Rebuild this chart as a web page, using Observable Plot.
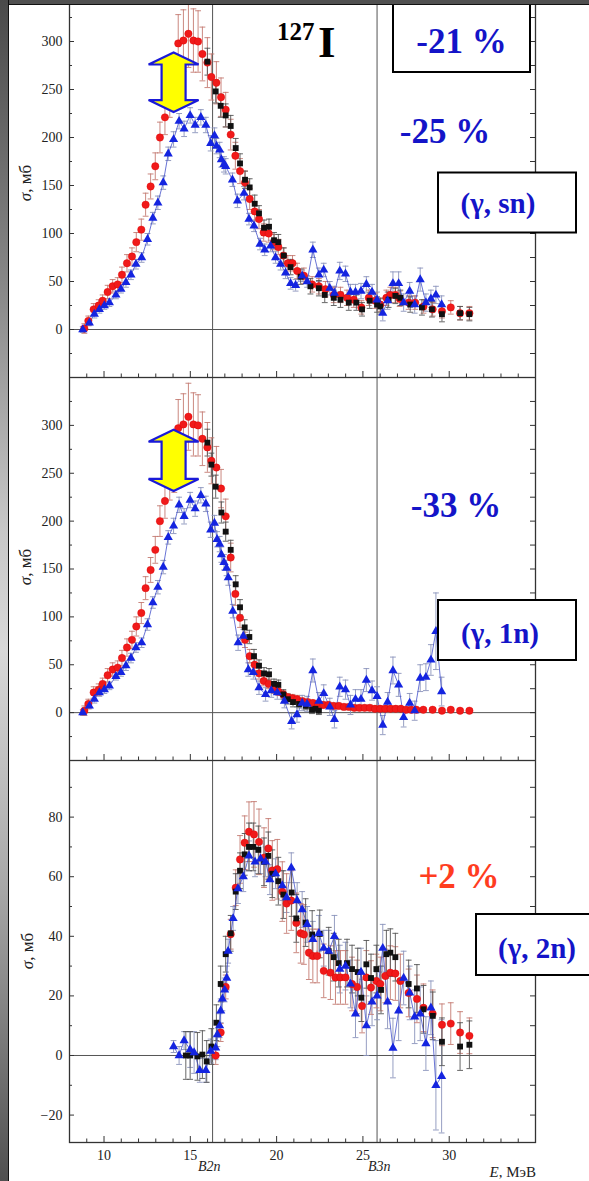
<!DOCTYPE html>
<html><head><meta charset="utf-8">
<script src="https://cdn.jsdelivr.net/npm/d3@7"></script>
<script src="https://cdn.jsdelivr.net/npm/@observablehq/plot@0.6"></script>
<style>
html,body{margin:0;padding:0;background:#fff;width:589px;height:1181px;overflow:hidden;position:relative;font-family:'Liberation Serif',serif}
.panel{position:absolute;left:0}
.panel svg, .panel svg text{font-family:'Liberation Serif',serif !important}
#ov text{font-family:'Liberation Serif',serif}
#topbar{position:absolute;left:0;top:0;width:589px;height:4px;background:#505050;border-bottom:1.5px solid #111;z-index:5}
#leftbar{position:absolute;left:0;top:0;width:8px;height:1181px;background:linear-gradient(to bottom,#4a4a4a 0%,#8a8a8a 25%,#c8c8c8 45%,#d8d8d8 55%,#a8a8a8 75%,#505050 100%);border-right:1.5px solid #111;z-index:5}
#ov{position:absolute;left:0;top:0;z-index:4}
</style></head>
<body>
<div id="p1" class="panel"></div>
<div id="p2" class="panel"></div>
<div id="p3" class="panel"></div>
<svg id="ov" width="589" height="1181">
  <text x="277" y="39.5" font-size="25" font-weight="bold" fill="#000">127</text>
  <text x="318" y="57" font-size="45" font-weight="bold" fill="#000">I</text>
  <rect x="393" y="4" width="137" height="68" fill="#fff" stroke="#000" stroke-width="2"/>
  <text x="461.5" y="52.5" font-size="35" font-weight="bold" text-anchor="middle" fill="#1414c8">-21 %</text>
  <text x="445" y="143" font-size="35" font-weight="bold" text-anchor="middle" fill="#1414c8">-25 %</text>
  <rect x="438" y="172.5" width="138" height="60" fill="#fff" stroke="#000" stroke-width="2"/>
  <text x="498" y="213" font-size="29" font-weight="bold" text-anchor="middle" fill="#1414c8">(γ, sn)</text>
  <text x="456" y="516.5" font-size="35" font-weight="bold" text-anchor="middle" fill="#1414c8">-33 %</text>
  <rect x="438" y="600" width="138" height="60" fill="#fff" stroke="#000" stroke-width="2"/>
  <text x="500" y="643" font-size="29" font-weight="bold" text-anchor="middle" fill="#1414c8">(γ, 1n)</text>
  <text x="459" y="888" font-size="35" font-weight="bold" text-anchor="middle" fill="#ff3d1f">+2 %</text>
  <rect x="476" y="914" width="125" height="61" fill="#fff" stroke="#000" stroke-width="2"/>
  <text x="537" y="958" font-size="29" font-weight="bold" text-anchor="middle" fill="#1414c8">(γ, 2n)</text>
  <g font-size="17" fill="#222">
    <text transform="translate(31,183) rotate(-90)" text-anchor="middle"><tspan font-style="italic">σ</tspan>, мб</text>
    <text transform="translate(31,567) rotate(-90)" text-anchor="middle"><tspan font-style="italic">σ</tspan>, мб</text>
    <text transform="translate(33,951) rotate(-90)" text-anchor="middle"><tspan font-style="italic">σ</tspan>, мб</text>
  </g>
  <g font-size="14" font-style="italic" fill="#222">
    <text x="198" y="1170.5">B2n</text>
    <text x="368" y="1170.5">B3n</text>
  </g>
  <text x="536" y="1177" font-size="15" fill="#222" text-anchor="end"><tspan font-style="italic">E</tspan>, МэВ</text>
</svg>
<div id="topbar"></div>
<div id="leftbar"></div>
<script>
// Threshold energies (MeV)
const B2n = 16.29, B3n = 25.82;
const xMajor = [10, 15, 20, 25, 30];
const xMinor = [9, 11, 12, 13, 14, 16, 17, 18, 19, 21, 22, 23, 24, 26, 27, 28, 29, 31, 32, 33, 34];
const yMajorA = [0, 50, 100, 150, 200, 250, 300];
const yMinorA = [-25, 25, 75, 125, 175, 225, 275, 325];
const yMajorB = [-20, 0, 20, 40, 60, 80];
const yMinorB = [-10, 10, 30, 50, 70, 90];

// [E, sigma, error]
const p1Blue = [[8.77,0,3],[9.15,7,3],[9.44,16,4],[9.73,21,4],[10.02,25,4],[10.31,28,4],[10.69,36,4],[10.98,42,4],[11.27,49,5],[11.56,57,5],[11.85,68,5],[12.18,75,5],[12.52,94,6],[12.83,116,6],[13.12,132,7],[13.43,153,7],[13.72,183,7],[14.03,198,8],[14.35,217,8],[14.64,209,8],[14.99,223,8],[15.28,213,8],[15.61,221,8],[15.90,213,8],[16.18,194,8],[16.40,202,8],[16.52,191,8],[16.70,187,8],[16.80,177,8],[16.95,172,8],[17.05,170,8],[17.44,156,7],[17.73,134,7],[18.11,142,7],[18.40,115,6],[18.69,108,6],[19.04,89,6],[19.31,83,6],[19.65,87,6],[19.94,75,6],[20.23,68,6],[20.52,59,6],[20.81,48,6],[21.10,46,6],[21.48,56,6],[21.77,50,6],[22.10,83,8],[22.45,57,7],[22.73,62,7],[23.08,43,7],[23.35,38,7],[23.66,61,9],[23.99,58,8],[24.28,39,8],[24.57,39,8],[24.89,40,8],[25.20,47,8],[25.53,39,8],[25.82,31,8],[26.15,17,8],[26.43,30,9],[26.74,48,12],[27.07,48,12],[27.36,28,9],[27.71,40,9],[28.00,26,9],[28.32,52,12],[28.65,28,9],[28.94,32,9],[29.23,36,9],[29.56,26,9]];
const p1Red = [[8.86,1,5],[9.09,9,5],[9.40,21,6],[9.69,25,6],[9.92,30,6],[10.21,39,7],[10.50,45,7],[10.79,47,7],[11.04,57,8],[11.33,69,9],[11.62,76,9],[11.87,91,10],[12.16,104,11],[12.41,130,12],[12.70,149,13],[12.97,170,14],[13.24,200,16],[13.53,221,18],[13.81,241,20],[14.07,251,22],[14.30,298,30],[14.60,301,32],[14.89,308,35],[15.18,301,33],[15.45,300,32],[15.70,287,28],[15.99,278,26],[16.22,263,24],[16.51,257,22],[16.78,242,20],[17.05,229,18],[17.34,203,16],[17.61,181,14],[17.88,165,13],[18.17,153,12],[18.44,136,11],[18.73,123,10],[18.98,115,10],[19.25,101,9],[19.54,100,9],[19.85,91,8],[20.10,86,8],[20.39,77,8],[20.65,69,8],[20.92,69,8],[21.19,61,8],[21.58,56,8],[22.06,47,8],[22.45,45,8],[22.83,42,8],[23.31,36,8],[23.70,36,8],[24.08,33,8],[24.47,31,8],[24.91,23,7],[25.34,33,8],[25.72,30,8],[26.01,26,7],[26.36,33,8],[26.59,36,8],[26.88,36,8],[27.13,32,8],[27.65,28,7],[28.03,28,7],[28.51,24,7],[29.04,21,7],[29.58,19,7],[30.09,23,7],[30.63,17,7],[31.17,17,7]];
const p1Black = [[15.99,279,14],[16.47,248,12],[16.76,233,12],[17.05,223,12],[17.34,212,11],[17.63,189,10],[17.88,173,10],[18.17,156,9],[18.44,148,9],[18.73,131,9],[18.98,121,8],[19.27,106,8],[19.56,107,8],[19.85,93,8],[20.10,91,8],[20.42,77,8],[20.81,65,8],[21.39,55,8],[21.96,45,8],[22.45,43,8],[22.79,36,8],[23.31,33,8],[23.70,31,8],[24.18,28,8],[24.62,28,8],[24.95,21,7],[25.39,30,8],[25.82,26,8],[26.01,24,8],[26.49,31,8],[26.88,35,8],[27.17,33,8],[27.74,26,8],[28.42,23,8],[29.00,21,8],[29.58,16,8],[30.63,17,7],[31.17,16,7]];

const p2Blue = [[8.77,0,3],[9.15,7,3],[9.44,14,4],[9.73,21,4],[10.02,24,4],[10.31,28,4],[10.69,38,4],[10.98,42,4],[11.27,49,5],[11.56,57,5],[11.85,68,5],[12.18,73,5],[12.52,92,6],[12.83,115,6],[13.12,131,7],[13.43,152,7],[13.72,183,7],[14.03,195,8],[14.35,217,8],[14.64,205,8],[14.99,222,8],[15.28,213,8],[15.61,227,8],[15.90,218,8],[16.18,191,8],[16.40,198,8],[16.55,181,8],[16.70,176,8],[16.80,165,8],[16.95,157,8],[17.10,151,8],[17.20,141,8],[17.46,106,7],[17.77,73,8],[18.07,80,7],[18.36,45,7],[18.65,42,7],[18.98,26,7],[19.36,19,7],[19.69,23,7],[20.04,21,7],[20.45,12,7],[20.87,-9,8],[21.18,-2,8],[21.48,10,8],[21.77,9,8],[22.10,44,12],[22.45,12,9],[22.73,20,9],[23.08,6,9],[23.35,-7,9],[23.66,27,10],[23.99,24,10],[24.28,8,10],[24.57,14,10],[24.89,14,10],[25.20,34,12],[25.53,23,10],[25.82,17,10],[26.15,-13,10],[26.43,11,10],[26.74,44,14],[27.07,29,12],[27.36,-5,10],[27.71,10,10],[28.00,2,10],[28.32,36,14],[28.65,37,14],[28.94,55,16],[29.23,85,40],[29.56,22,15]];
const p2Red = [[8.86,2,5],[9.09,9,5],[9.40,21,6],[9.69,24,6],[9.92,30,6],[10.21,39,7],[10.50,45,7],[10.79,47,7],[11.04,57,8],[11.33,68,9],[11.62,76,9],[11.87,90,10],[12.16,104,11],[12.41,130,12],[12.70,149,13],[12.97,170,14],[13.24,200,16],[13.53,221,18],[13.81,242,20],[14.07,252,22],[14.30,297,30],[14.60,301,32],[14.89,309,35],[15.18,301,33],[15.45,300,32],[15.70,286,28],[15.99,277,26],[16.22,263,24],[16.51,256,22],[16.78,234,20],[17.05,205,18],[17.34,162,15],[17.61,124,12],[17.88,99,10],[18.17,76,8],[18.44,59,7],[18.73,50,6],[18.98,41,6],[19.25,33,5],[19.54,30,5],[19.85,25,5],[20.10,22,4],[20.39,19,4],[20.65,16,4],[20.92,15,4],[21.19,14,4],[21.50,12,3],[21.80,11,3],[22.10,10,3],[22.40,9,3],[22.70,8,3],[23.00,8,3],[23.30,7,3],[23.60,7,3],[23.90,6,3],[24.20,6,3],[24.50,5,3],[24.80,5,3],[25.10,5,3],[25.40,5,3],[25.70,4,3],[26.00,4,3],[26.30,4,3],[26.60,4,3],[26.90,4,3],[27.20,4,2],[27.50,3,2],[27.80,3,2],[28.10,3,2],[28.50,3,2],[29.04,3,2],[29.58,2,2],[30.09,3,2],[30.63,2,2],[31.17,2,2]];
const p2Black = [[15.99,282,14],[16.22,259,12],[16.47,236,12],[16.80,209,11],[17.05,189,10],[17.34,170,10],[17.63,134,9],[17.88,110,8],[18.15,89,8],[18.42,79,7],[18.69,59,7],[18.98,49,6],[19.27,41,6],[19.56,40,6],[19.85,30,5],[20.10,29,5],[20.39,19,5],[20.65,14,5],[20.95,11,5],[21.30,9,4],[21.70,7,4],[22.05,3,4],[22.25,4,4],[22.45,2,4]];

const p3Blue = [[14.03,3,2],[14.35,0,3],[14.64,5,3],[14.99,2,6],[15.22,1,7],[15.55,-5,4],[15.90,-5,4],[16.18,1.5,4],[16.47,2.6,4],[16.57,7,4],[16.70,10,4],[16.76,15,4],[16.86,19,4],[16.99,22,4],[17.11,26,4],[17.19,35,4],[17.48,46,4],[17.76,56,5],[18.07,60,5],[18.40,67,5],[18.75,65,5],[19.07,66,5],[19.36,65,5],[19.61,59,5],[19.94,61,5],[20.33,57,5],[20.58,53,5],[20.85,63,5],[21.19,52,6],[21.48,49,6],[21.77,44,6],[22.10,39,6],[22.45,41,6],[22.73,36,6],[23.02,35,7],[23.35,40,7],[23.66,29,8],[23.99,30,8],[24.28,24,8],[24.57,14,8],[24.89,28,8],[25.20,10,10],[25.53,18,8],[25.82,20,8],[26.15,36,8],[26.43,18,9],[26.74,2.5,10],[27.07,15,10],[27.36,26,9],[27.71,21,9],[28.00,13,9],[28.32,14,9],[28.65,4,9],[28.94,16,9],[29.23,-10,15],[29.56,-7,19]];
const p3Red = [[16.47,0,3],[16.76,7.7,3],[17.05,23,4],[17.34,40.7,5],[17.63,56.3,6],[17.88,65.8,8],[18.15,71.4,9],[18.40,75.1,10],[18.69,74.2,11],[18.98,71.7,11],[19.27,66.4,10],[19.52,69.5,10],[19.75,62.1,10],[20.04,62.5,10],[20.33,55,10],[20.58,51,10],[20.85,52,10],[21.14,44.5,10],[21.39,41,10],[21.58,40.6,10],[21.87,34.5,9],[22.10,33.4,9],[22.35,33.4,9],[22.73,28.4,9],[23.12,27.8,9],[23.41,26.2,9],[23.70,26.2,9],[23.99,26.2,9],[24.37,24,9],[24.66,23,9],[24.95,16.6,9],[25.20,26.2,9],[25.47,22.8,9],[25.78,25,9],[26.01,24,9],[26.30,26.7,9],[26.59,27.8,9],[26.88,27.5,9],[27.17,25,9],[27.65,21,8],[28.13,19,8],[28.51,16,8],[29.04,14,8],[29.58,10.3,7],[30.09,10.7,7],[30.63,7.7,7],[31.17,6.6,6]];
const p3Black = [[14.74,0,8],[14.99,0,8],[15.41,-0.3,8],[15.70,0.3,8],[15.95,-2,7],[16.22,3,6],[16.51,11,6],[16.76,24,6],[17.05,34,6],[17.34,41,6],[17.63,55,6],[17.88,62,6],[18.15,67.5,7],[18.40,70,8],[18.65,70,8],[18.94,69,8],[19.27,65,8],[19.52,67,8],[19.75,61,8],[20.10,58.5,8],[20.39,54,8],[20.87,54.7,8],[21.14,46,8],[21.68,44.6,8],[22.06,40.6,8],[22.50,40.8,8],[23.02,35,8],[23.31,33,8],[23.60,31,8],[24.08,31,8],[24.37,29,8],[24.70,28,8],[24.91,19.4,8],[25.20,30.6,8],[25.47,26,8],[25.78,29,8],[26.05,22,8],[26.36,34,8],[26.59,34.5,8],[26.88,33,8],[27.65,24,8],[28.13,22.5,8],[28.51,15.5,8],[29.05,13.3,8],[29.58,4.6,8],[30.63,3,8],[31.17,3.6,8]];

// Yellow double-arrow annotations: energy, upper and lower sigma
const arrow1 = {E: 14.06, top: 288, bottom: 226};
const arrow2 = {E: 14.06, top: 295, bottom: 231};

const W = 589, ML = 69, MR = 54;
const FW = W - ML - MR;
const cap = 0.17;

function errMarks(data, color) {
  const o = {stroke: color, strokeWidth: 0.9};
  return [
    Plot.ruleX(data, {x: d => d[0], y1: d => d[1] - d[2], y2: d => d[1] + d[2], ...o}),
    Plot.link(data, {x1: d => d[0] - cap, x2: d => d[0] + cap, y1: d => d[1] + d[2], y2: d => d[1] + d[2], ...o}),
    Plot.link(data, {x1: d => d[0] - cap, x2: d => d[0] + cap, y1: d => d[1] - d[2], y2: d => d[1] - d[2], ...o})
  ];
}

function arrowMark(a) {
  return (index, scales) => {
    const cx = scales.x(a.E), yt = scales.y(a.top), yb = scales.y(a.bottom);
    const hw = 25, sw = 12, hh = 12;
    const d = `M${cx},${yt}L${cx+hw},${yt+hh}L${cx+sw},${yt+hh}L${cx+sw},${yb-hh}L${cx+hw},${yb-hh}L${cx},${yb}L${cx-hw},${yb-hh}L${cx-sw},${yb-hh}L${cx-sw},${yt+hh}L${cx-hw},${yt+hh}Z`;
    return d3.create("svg:path").attr("d", d).attr("fill", "#ffff00").attr("stroke", "#1a1ad8").attr("stroke-width", 2.2).attr("stroke-linejoin", "miter").node();
  };
}

function panel({blue, red, black, yDomain, yMaj, yMin, arrow, bottom, height, mb}) {
  const FH = height - mb;
  const marks = [
    Plot.ruleY([0], {stroke: "#555", strokeWidth: 1}),
    Plot.ruleX([B2n, B3n], {stroke: "#555", strokeWidth: 1}),
    ...errMarks(blue, "#8a93bb"),
    ...errMarks(red, "#c47a72"),
    ...errMarks(black, "#555"),
    Plot.line(blue, {x: d => d[0], y: d => d[1], stroke: "#3a48c8", strokeWidth: 0.9, strokeOpacity: 0.85}),
    Plot.dot(red, {x: d => d[0], y: d => d[1], r: 3.7, fill: "#f01a1a", stroke: "#d00", strokeWidth: 0.4}),
    Plot.dot(black, {x: d => d[0], y: d => d[1], symbol: "square", r: 3.3, fill: "#111"}),
    Plot.dot(blue, {x: d => d[0], y: d => d[1], symbol: "triangle", r: 3.4, fill: "#1424e0"}),
    Plot.tickX(xMajor, {x: d => d, insetTop: FH - 6, stroke: "#333", strokeWidth: 1}),
    Plot.tickX(xMinor, {x: d => d, insetTop: FH - 3.5, stroke: "#333", strokeWidth: 1}),
    Plot.tickY(yMaj, {y: d => d, insetRight: FW - 5, stroke: "#333", strokeWidth: 1}),
    Plot.tickY(yMin, {y: d => d, insetRight: FW - 3, stroke: "#333", strokeWidth: 1}),
    Plot.tickY(yMaj, {y: d => d, insetLeft: FW - 5, stroke: "#333", strokeWidth: 1}),
    Plot.tickY(yMin, {y: d => d, insetLeft: FW - 5, stroke: "#333", strokeWidth: 1}),
    Plot.axisY(yMaj, {tickSize: 0, tickPadding: 7, fontSize: 14, label: null, fontFamily: "'Liberation Serif', serif"}),
    Plot.frame({stroke: "#333", strokeWidth: 1.3})
  ];
  if (arrow) marks.push(arrowMark(arrow));
  if (bottom) marks.push(Plot.axisX(xMajor, {tickSize: 0, tickPadding: 8, fontSize: 14, label: null, fontFamily: "'Liberation Serif', serif"}));
  return Plot.plot({
    width: W, height,
    marginLeft: ML, marginRight: MR, marginTop: 0, marginBottom: mb,
    x: {domain: [8, 35], axis: bottom ? undefined : null},
    y: {domain: yDomain},
    style: {fontFamily: "'Liberation Serif', serif", fontSize: "14px", color: "#222", background: "transparent"},
    marks
  });
}

const s1 = panel({blue: p1Blue, red: p1Red, black: p1Black, yDomain: [-50, 350], yMaj: yMajorA, yMin: yMinorA, arrow: arrow1, bottom: false, height: 384, mb: 0});
const s2 = panel({blue: p2Blue, red: p2Red, black: p2Black, yDomain: [-50, 350], yMaj: yMajorA, yMin: yMinorA, arrow: arrow2, bottom: false, height: 383, mb: 0});
const s3 = panel({blue: p3Blue, red: p3Red, black: p3Black, yDomain: [-29.2, 99], yMaj: yMajorB, yMin: yMinorB, arrow: null, bottom: true, height: 421, mb: 39});
const d1 = document.getElementById("p1"); d1.style.top = "-7px"; d1.appendChild(s1);
const d2 = document.getElementById("p2"); d2.style.top = "377px"; d2.appendChild(s2);
const d3el = document.getElementById("p3"); d3el.style.top = "760px"; d3el.appendChild(s3);
</script>
</body></html>
